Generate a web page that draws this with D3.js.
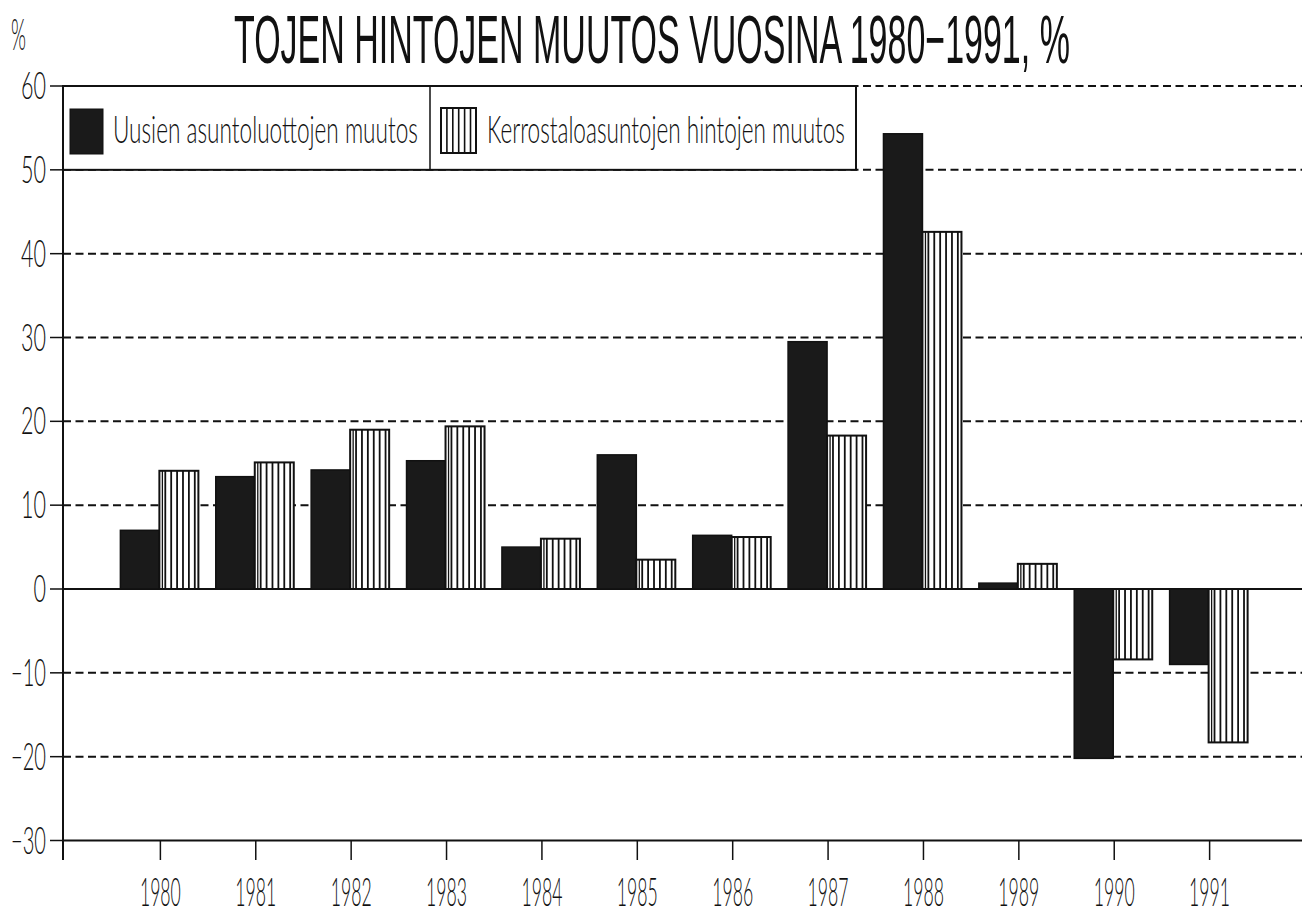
<!DOCTYPE html>
<html>
<head>
<meta charset="utf-8">
<script src="https://cdn.jsdelivr.net/npm/d3@7"></script>
<style>
  html, body { margin: 0; padding: 0; background: #fff; }
  svg { display: block; }
  text { font-family: Lato, Roboto, "DejaVu Sans", sans-serif; font-weight: 300; fill: #111; }
  text.title { font-family: "Liberation Sans", Arimo, sans-serif; font-weight: 400; }
</style>
</head>
<body>
<svg id="chart" width="1302" height="915"></svg>
<script>
// ---- data ----
const years = ["1980","1981","1982","1983","1984","1985","1986","1987","1988","1989","1990","1991"];
const loanChange = [7.0, 13.4, 14.2, 15.3, 5.0, 16.0, 6.4, 29.5, 54.3, 0.7, -20.2, -9.0];
const priceChange = [14.1, 15.1, 19.0, 19.4, 6.0, 3.5, 6.2, 18.3, 42.6, 3.0, -8.4, -18.3];
const seriesNames = ["Uusien asuntoluottojen muutos", "Kerrostaloasuntojen hintojen muutos"];
const yTicks = [-30, -20, -10, 0, 10, 20, 30, 40, 50, 60];
const titleText = "TOJEN HINTOJEN MUUTOS VUOSINA 1980\u22121991, %";
const unitText = "%";

// ---- layout ----
const svg = d3.select("#chart");
const axisX = 63;
const rightX = 1302;

const y = d3.scaleLinear().domain([-30, 60]).range([840.5, 86]);
const x = d3.scalePoint().domain(years).range([axisX + 2, 1305]).padding(1);
const x1 = d3.scaleBand().domain(["loan", "price"]).range([-40, 38]);

const rows = years.map((yr, i) => ({ year: yr, loan: loanChange[i], price: priceChange[i] }));

// place a text and compress it horizontally to a target width
function fitText(sel, width, anchor) {
  sel.each(function(d, i) {
    const t = d3.select(this);
    const w = typeof width === "function" ? width(d, i) : width;
    const ax = +t.attr("x"), ay = +t.attr("y");
    const natural = this.getComputedTextLength();
    const s = natural > 0 ? w / natural : 1;
    let left = ax;
    if (anchor === "middle") left = ax - w / 2;
    if (anchor === "end") left = ax - w;
    t.attr("text-anchor", "start").attr("x", 0).attr("y", 0)
     .attr("transform", `translate(${left},${ay}) scale(${s},1)`);
  });
}

// gridlines
svg.append("g").selectAll("line")
  .data(yTicks.filter(v => v !== 0 && v !== -30))
  .join("line")
  .attr("x1", axisX).attr("x2", rightX)
  .attr("y1", d => y(d)).attr("y2", d => y(d))
  .attr("stroke", "#111").attr("stroke-width", 2)
  .attr("stroke-dasharray", "8,4.5");

// zero line
svg.append("line")
  .attr("x1", axisX).attr("x2", rightX)
  .attr("y1", y(0)).attr("y2", y(0))
  .attr("stroke", "#111").attr("stroke-width", 2);

// bars - dark series
const bars = svg.append("g");
bars.selectAll("rect.loan")
  .data(rows)
  .join("rect")
  .attr("class", "loan")
  .attr("x", d => x(d.year) + x1("loan"))
  .attr("width", x1.bandwidth())
  .attr("y", d => y(Math.max(0, d.loan)))
  .attr("height", d => Math.abs(y(d.loan) - y(0)))
  .attr("fill", "#1a1a1a")
  .attr("stroke", "#111").attr("stroke-width", 1.5);

// bars - hatched series
const hatchStep = 5.9;
const pg = bars.selectAll("g.price")
  .data(rows)
  .join("g").attr("class", "price");
pg.append("rect")
  .attr("x", d => x(d.year) + x1("price"))
  .attr("width", x1.bandwidth())
  .attr("y", d => y(Math.max(0, d.price)))
  .attr("height", d => Math.abs(y(d.price) - y(0)))
  .attr("fill", "#fff")
  .attr("stroke", "#111").attr("stroke-width", 2);
pg.each(function(d) {
  const x0 = x(d.year) + x1("price");
  const n = Math.floor(x1.bandwidth() / hatchStep);
  const xs = d3.range(1, n + 1).map(k => x0 + k * hatchStep);
  d3.select(this).selectAll("line.h")
    .data(xs)
    .join("line")
    .attr("x1", v => v).attr("x2", v => v)
    .attr("y1", y(Math.max(0, d.price))).attr("y2", y(Math.min(0, d.price)))
    .attr("stroke", "#111").attr("stroke-width", 1.8);
  d3.select(this).append("line")
    .attr("x1", x0 + 3).attr("x2", x0 + 3)
    .attr("y1", y(Math.max(0, d.price))).attr("y2", y(Math.min(0, d.price)))
    .attr("stroke", "#111").attr("stroke-width", 1.3);
});

// bottom axis line
svg.append("line")
  .attr("x1", axisX).attr("x2", rightX)
  .attr("y1", y(-30)).attr("y2", y(-30))
  .attr("stroke", "#111").attr("stroke-width", 2);

// left axis line
svg.append("line")
  .attr("x1", axisX).attr("x2", axisX)
  .attr("y1", y(60)).attr("y2", 860)
  .attr("stroke", "#111").attr("stroke-width", 2);

// y ticks and labels
const yt = svg.append("g");
yt.selectAll("line")
  .data(yTicks)
  .join("line")
  .attr("x1", 50).attr("x2", axisX)
  .attr("y1", d => y(d)).attr("y2", d => y(d))
  .attr("stroke", "#111").attr("stroke-width", 1.5);
yt.selectAll("text")
  .data(yTicks)
  .join("text")
  .attr("x", 46)
  .attr("y", d => y(d) + 13)
  .attr("font-size", 37)
  .text(d => (d < 0 ? "\u2212" : "") + Math.abs(d))
  .call(fitText, d => (String(Math.abs(d)).length * 12.5) + (d < 0 ? 10 : 0), "end");

// x ticks and labels
const xt = svg.append("g");
xt.selectAll("line")
  .data(years)
  .join("line")
  .attr("x1", d => x(d)).attr("x2", d => x(d))
  .attr("y1", y(-30)).attr("y2", 860)
  .attr("stroke", "#111").attr("stroke-width", 1.5);
xt.selectAll("text")
  .data(years)
  .join("text")
  .attr("x", d => x(d))
  .attr("y", 906)
  .attr("font-size", 40)
  .text(d => d)
  .call(fitText, 41, "middle");

// legend
const lg = svg.append("g");
lg.append("rect")
  .attr("x", axisX).attr("y", y(60))
  .attr("width", 856 - axisX).attr("height", y(50) - y(60))
  .attr("fill", "#fff").attr("stroke", "#111").attr("stroke-width", 2);
lg.append("line")
  .attr("x1", 430).attr("x2", 430)
  .attr("y1", y(60)).attr("y2", y(50))
  .attr("stroke", "#111").attr("stroke-width", 1.5);
lg.append("rect")
  .attr("x", 70).attr("y", 109).attr("width", 33).attr("height", 45)
  .attr("fill", "#1a1a1a").attr("stroke", "#111");
lg.append("rect")
  .attr("x", 441).attr("y", 108).attr("width", 35).attr("height", 45)
  .attr("fill", "#fff").attr("stroke", "#111").attr("stroke-width", 2);
lg.selectAll("line.sw")
  .data(d3.range(1, 6).map(k => 441 + k * 5.9))
  .join("line")
  .attr("x1", v => v).attr("x2", v => v)
  .attr("y1", 108).attr("y2", 153)
  .attr("stroke", "#111").attr("stroke-width", 1.6);
lg.append("text")
  .attr("x", 113).attr("y", 143)
  .attr("font-size", 38)
  .text(seriesNames[0])
  .call(fitText, 305, "start");
lg.append("text")
  .attr("x", 487).attr("y", 143)
  .attr("font-size", 38)
  .text(seriesNames[1])
  .call(fitText, 358, "start");

// title & unit
svg.append("text")
  .attr("class", "title")
  .attr("x", 234).attr("y", 63)
  .attr("font-size", 68)
  .text(titleText)
  .call(fitText, 836, "start");
svg.append("text")
  .attr("x", 11).attr("y", 50)
  .attr("font-size", 44)
  .text(unitText)
  .call(fitText, 15, "start");
</script>
</body>
</html>
